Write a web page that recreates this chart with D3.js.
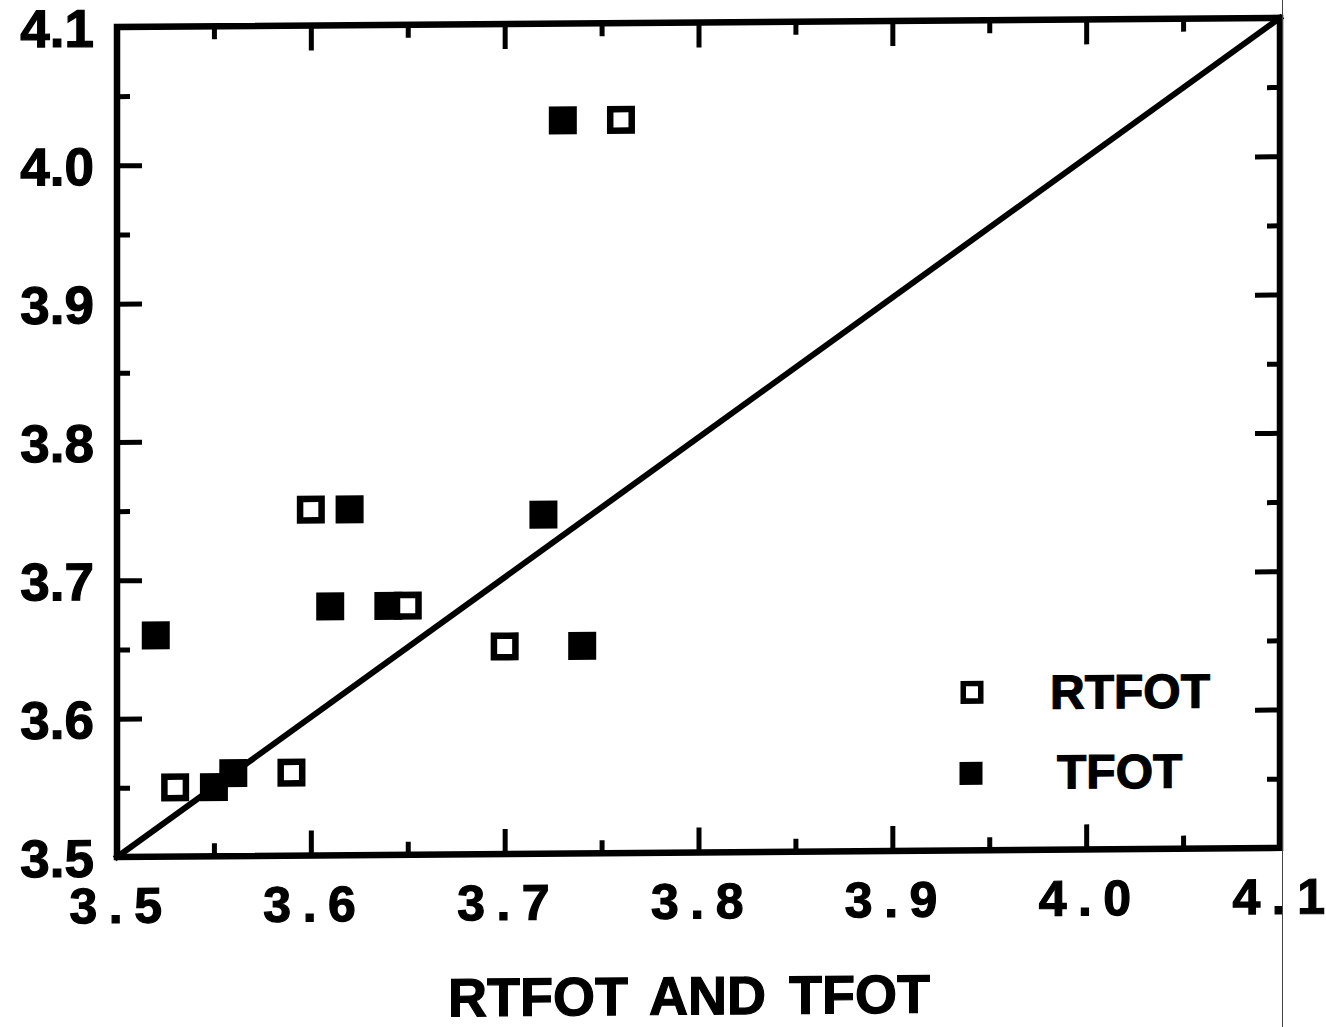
<!DOCTYPE html>
<html>
<head>
<meta charset="utf-8">
<script src="https://cdn.jsdelivr.net/npm/d3@7"></script>
<style>
  html, body { margin: 0; padding: 0; background: #fff; }
  svg { display: block; }
  text { font-family: "Liberation Sans", Arial, Helvetica, sans-serif; font-weight: bold; fill: #000;
         stroke: #000; stroke-width: 1.2px; }
</style>
</head>
<body>
<script>
// Axis ticks
const xMajorTicks = [3.5, 3.6, 3.7, 3.8, 3.9, 4.0, 4.1];
const yMajorTicks = [3.5, 3.6, 3.7, 3.8, 3.9, 4.0, 4.1];
const minorTicks = [3.55, 3.65, 3.75, 3.85, 3.95, 4.05];
const xTickLabels = ["3.5", "3.6", "3.7", "3.8", "3.9", "4.0", "4.1"];
const yTickLabels = ["3.5", "3.6", "3.7", "3.8", "3.9", "4.0", "4.1"];

// RTFOT series (open squares)
const rtfotX = [3.76, 3.60, 3.65, 3.70, 3.53, 3.59];
const rtfotY = [4.03, 3.75, 3.68, 3.65, 3.55, 3.56];

// TFOT series (filled squares)
const tfotX = [3.73, 3.62, 3.72, 3.61, 3.64, 3.74, 3.52, 3.55, 3.56];
const tfotY = [4.03, 3.75, 3.745, 3.68, 3.68, 3.65, 3.66, 3.55, 3.56];

// Line of equality
const lineX = [3.5, 4.1];
const lineY = [3.5, 4.1];

const seriesNames = ["RTFOT", "TFOT"];
const xTitle = "RTFOT AND TFOT";

const W = 1326, H = 1027;
const plotLeft = 117, plotRight = 1280, plotTop = 27, plotBottom = 857;

const svg = d3.select("body").append("svg")
  .attr("width", W).attr("height", H);

// the printed page sits with a slight tilt
const g = svg.append("g")
  .attr("transform", `translate(${plotLeft},0) skewY(-0.45) translate(${-plotLeft},0)`);

const x = d3.scaleLinear().domain([3.5, 4.1]).range([plotLeft, plotRight]);
const y = d3.scaleLinear().domain([3.5, 4.1]).range([plotBottom, plotTop]);

const MAJ = 25, MIN = 13;

function styleAxis(sel) {
  sel.select(".domain").remove();
  sel.selectAll(".tick line").attr("stroke", "#000").attr("stroke-width", 5);
}

// minor ticks on all four sides
g.append("g").attr("transform", `translate(${plotLeft},0)`)
  .call(d3.axisLeft(y).tickValues(minorTicks).tickSize(-MIN).tickFormat(""))
  .call(styleAxis);
g.append("g").attr("transform", `translate(${plotRight},0)`)
  .call(d3.axisRight(y).tickValues(minorTicks).tickSize(-MIN).tickFormat(""))
  .call(styleAxis);
g.append("g").attr("transform", `translate(0,${plotBottom})`)
  .call(d3.axisBottom(x).tickValues(minorTicks).tickSize(-MIN).tickFormat(""))
  .call(styleAxis);
g.append("g").attr("transform", `translate(0,${plotTop})`)
  .call(d3.axisTop(x).tickValues(minorTicks).tickSize(-MIN).tickFormat(""))
  .call(styleAxis);

// major ticks
g.append("g").attr("transform", `translate(${plotRight},0)`)
  .call(d3.axisRight(y).tickValues(yMajorTicks.slice(1, -1)).tickSize(-MAJ).tickFormat(""))
  .call(styleAxis);
g.append("g").attr("transform", `translate(0,${plotTop})`)
  .call(d3.axisTop(x).tickValues(xMajorTicks.slice(1, -1)).tickSize(-MAJ).tickFormat(""))
  .call(styleAxis);

const yAxis = g.append("g").attr("transform", `translate(${plotLeft},0)`)
  .call(d3.axisLeft(y).tickValues(yMajorTicks).tickSize(-MAJ).tickPadding(23)
    .tickFormat((d, i) => yTickLabels[i]))
  .call(styleAxis);
yAxis.selectAll(".tick line").filter(d => d === 3.5 || d === 4.1).remove();
yAxis.selectAll(".tick text")
  .attr("dy", null).attr("y", 19)
  .style("font-size", "53px")
  .attr("text-anchor", "end");

const xAxis = g.append("g").attr("transform", `translate(0,${plotBottom})`)
  .call(d3.axisBottom(x).tickValues(xMajorTicks).tickSize(-MAJ)
    .tickFormat((d, i) => xTickLabels[i]))
  .call(styleAxis);
xAxis.selectAll(".tick line").filter(d => d === 3.5 || d === 4.1).remove();
xAxis.selectAll(".tick text")
  .attr("dy", null).attr("y", 66).attr("x", 4)
  .style("font-size", "50px").style("letter-spacing", "11.5px")
  .attr("text-anchor", "middle");

// frame
g.append("rect")
  .attr("x", plotLeft).attr("y", plotTop)
  .attr("width", plotRight - plotLeft).attr("height", plotBottom - plotTop)
  .attr("fill", "none").attr("stroke", "#000").attr("stroke-width", 6.5);

// line of equality
g.append("line")
  .attr("x1", x(lineX[0])).attr("y1", y(lineY[0]))
  .attr("x2", x(lineX[1])).attr("y2", y(lineY[1]))
  .attr("stroke", "#000").attr("stroke-width", 6).attr("stroke-linecap", "square");

const S = 28, SW = 6.5;

// TFOT markers
g.append("g").selectAll("rect")
  .data(tfotX.map((v, i) => [v, tfotY[i]]))
  .join("rect")
  .attr("x", d => x(d[0]) - S / 2).attr("y", d => y(d[1]) - S / 2)
  .attr("width", S).attr("height", S)
  .attr("fill", "#000");

// RTFOT markers
g.append("g").selectAll("rect")
  .data(rtfotX.map((v, i) => [v, rtfotY[i]]))
  .join("rect")
  .attr("x", d => x(d[0]) - (S - SW) / 2).attr("y", d => y(d[1]) - (S - SW) / 2)
  .attr("width", S - SW).attr("height", S - SW)
  .attr("fill", "#fff").attr("stroke", "#000").attr("stroke-width", SW);

// legend
const LS = 23, LW = 5.5;
const legend = g.append("g");
legend.append("rect")
  .attr("x", 972 - (LS - LW) / 2).attr("y", 699 - (LS - LW) / 2)
  .attr("width", LS - LW).attr("height", LS - LW)
  .attr("fill", "#fff").attr("stroke", "#000").attr("stroke-width", LW);
legend.append("rect")
  .attr("x", 971 - LS / 2).attr("y", 780 - LS / 2)
  .attr("width", LS).attr("height", LS)
  .attr("fill", "#000");
legend.append("text")
  .attr("x", 1050).attr("y", 716)
  .style("font-size", "48px")
  .text(seriesNames[0]);
legend.append("text")
  .attr("x", 1057).attr("y", 796)
  .style("font-size", "48px")
  .text(seriesNames[1]);

// x axis title
g.append("text")
  .attr("x", 689).attr("y", 1019)
  .attr("text-anchor", "middle")
  .style("font-size", "54px")
  .style("word-spacing", "8px")
  .text(xTitle);

// page edge
svg.append("line")
  .attr("x1", 1282.5).attr("y1", 0).attr("x2", 1282.5).attr("y2", H)
  .attr("stroke", "#444").attr("stroke-width", 1);
</script>
</body>
</html>
